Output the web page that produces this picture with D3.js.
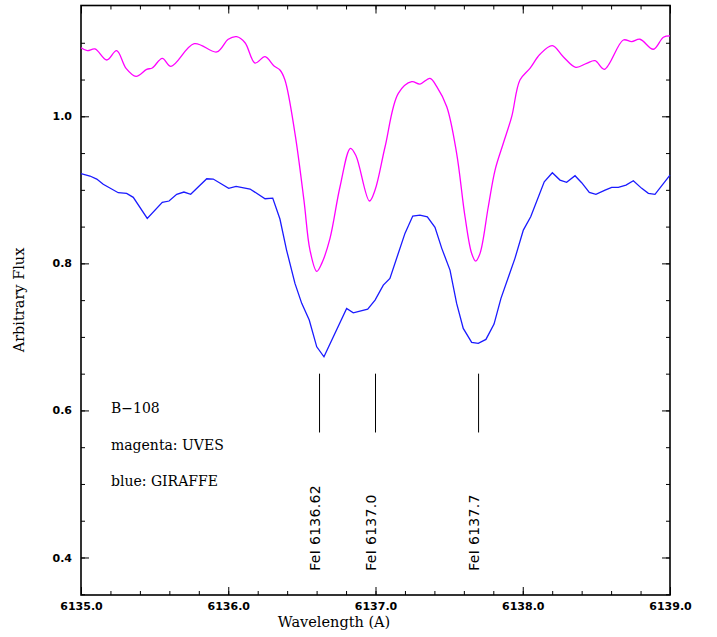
<!DOCTYPE html>
<html>
<head>
<meta charset="utf-8">
<script src="https://cdn.jsdelivr.net/npm/d3@7"></script>
<style>
  body { margin: 0; background: #fff; }
  svg { display: block; }
</style>
</head>
<body>
<svg id="chart" width="717" height="637"></svg>
<script>
// UVES spectrum (magenta)
const uvesWave = [6135.000, 6135.043, 6135.095, 6135.175, 6135.242, 6135.306, 6135.374, 6135.446,
  6135.484, 6135.552, 6135.611, 6135.769, 6135.922, 6136.000, 6136.057, 6136.114, 6136.182,
  6136.250, 6136.311, 6136.351, 6136.385, 6136.453, 6136.514, 6136.555, 6136.601, 6136.635,
  6136.691, 6136.759, 6136.830, 6136.868, 6136.959, 6136.997, 6137.065, 6137.155, 6137.246,
  6137.302, 6137.370, 6137.416, 6137.484, 6137.551, 6137.608, 6137.653, 6137.680, 6137.710,
  6137.766, 6137.812, 6137.868, 6137.925, 6137.981, 6138.049, 6138.117, 6138.201, 6138.275,
  6138.360, 6138.434, 6138.491, 6138.554, 6138.683, 6138.740, 6138.796, 6138.887, 6138.955, 6139.000];
const uvesFlux = [1.0933, 1.0893, 1.0916, 1.0766, 1.0893, 1.0653, 1.0544, 1.0639,
  1.0657, 1.0789, 1.0680, 1.0988, 1.0875, 1.1048, 1.1083, 1.1001, 1.0725,
  1.0811, 1.0684, 1.0630, 1.0494, 0.9769, 0.8861, 0.8181, 0.7891, 0.8000,
  0.8340, 0.9042, 0.9565, 0.9460, 0.8848, 0.8997, 0.9586, 1.0313, 1.0471,
  1.0439, 1.0517, 1.0403, 1.0131, 0.9497, 0.8634, 0.8136, 0.8031, 0.8136,
  0.8770, 0.9269, 0.9633, 0.9995, 1.0494, 1.0653, 1.0844, 1.0961, 1.0811,
  1.0667, 1.0721, 1.0756, 1.0639, 1.1038, 1.1015, 1.1048, 1.0912, 1.1075, 1.1093];

// GIRAFFE spectrum (blue)
const giraffeWave = [6135.000, 6135.061, 6135.107, 6135.151, 6135.253, 6135.310, 6135.355, 6135.450,
  6135.552, 6135.598, 6135.650, 6135.699, 6135.745, 6135.854, 6135.898, 6136.003, 6136.053,
  6136.148, 6136.250, 6136.302, 6136.351, 6136.396, 6136.453, 6136.499, 6136.550, 6136.601,
  6136.650, 6136.804, 6136.849, 6136.947, 6136.997, 6137.053, 6137.098, 6137.200, 6137.253,
  6137.302, 6137.352, 6137.404, 6137.450, 6137.506, 6137.551, 6137.596, 6137.653, 6137.698,
  6137.750, 6137.805, 6137.852, 6137.947, 6138.004, 6138.054, 6138.146, 6138.201, 6138.253,
  6138.298, 6138.355, 6138.400, 6138.452, 6138.497, 6138.559, 6138.604, 6138.649, 6138.701,
  6138.751, 6138.808, 6138.853, 6138.898, 6139.000];
const giraffeFlux = [0.9219, 0.9188, 0.9147, 0.9075, 0.8961, 0.8952, 0.8898, 0.8612,
  0.8830, 0.8848, 0.8939, 0.8970, 0.8939, 0.9151, 0.9147, 0.9020, 0.9048,
  0.9011, 0.8879, 0.8888, 0.8603, 0.8181, 0.7728, 0.7456, 0.7229, 0.6865,
  0.6729, 0.7388, 0.7328, 0.7378, 0.7501, 0.7705, 0.7796, 0.8408, 0.8644,
  0.8657, 0.8634, 0.8490, 0.8204, 0.7909, 0.7456, 0.7116, 0.6925, 0.6912,
  0.6966, 0.7174, 0.7524, 0.8068, 0.8453, 0.8634, 0.9110, 0.9233, 0.9133,
  0.9102, 0.9192, 0.9097, 0.8966, 0.8939, 0.8997, 0.9034, 0.9034, 0.9065,
  0.9124, 0.9020, 0.8952, 0.8939, 0.9201];

// line identifications
const lineWave = [6136.62, 6137.0, 6137.7];
const lineLabels = ["FeI 6136.62", "FeI 6137.0", "FeI 6137.7"];
const markTop = 0.65, markBottom = 0.57, labelBase = 0.382;

// tick values
const xMajor = [6135, 6136, 6137, 6138, 6139];
const xMinor = d3.range(0, 21).map(i => 6135 + i * 0.2);
const yMajor = [0.4, 0.6, 0.8, 1.0];
const yMinor = d3.range(7, 23).map(i => i * 0.05);

const legendLines = ["B\u2212108", "magenta: UVES", "blue: GIRAFFE"];

const svg = d3.select("#chart");
const plotLeft = 81, plotRight = 670, plotTop = 5.5, plotBottom = 595;

const x = d3.scaleLinear().domain([6135, 6139]).range([plotLeft, plotRight]);
const y = d3.scaleLinear().domain([0.349, 1.1507]).range([plotBottom, plotTop]);

const serif = "'DejaVu Serif', serif";
const sans = "'DejaVu Sans', sans-serif";

// axes: ticks drawn inward on all four sides
function addAxis(axis, tx, ty, labels) {
  const g = svg.append("g")
    .attr("transform", `translate(${tx},${ty})`)
    .call(axis);
  g.select(".domain").remove();
  g.selectAll(".tick line").attr("stroke", "#000").attr("stroke-width", 1);
  if (!labels) g.selectAll(".tick text").remove();
  else g.selectAll(".tick text")
    .attr("font-family", sans)
    .attr("font-size", 11)
    .attr("font-weight", "bold")
    .attr("fill", "#000");
  return g;
}

const fmt = d3.format(".1f");
addAxis(d3.axisBottom(x).tickValues(xMinor).tickSize(-4).tickFormat(""), 0, plotBottom, false);
addAxis(d3.axisBottom(x).tickValues(xMajor).tickSize(-8).tickPadding(7).tickFormat(fmt), 0, plotBottom, true);
addAxis(d3.axisTop(x).tickValues(xMinor).tickSize(-4), 0, plotTop, false);
addAxis(d3.axisTop(x).tickValues(xMajor).tickSize(-8), 0, plotTop, false);
addAxis(d3.axisLeft(y).tickValues(yMinor).tickSize(-4).tickFormat(""), plotLeft, 0, false);
addAxis(d3.axisLeft(y).tickValues(yMajor).tickSize(-8).tickPadding(9).tickFormat(fmt), plotLeft, 0, true);
addAxis(d3.axisRight(y).tickValues(yMinor).tickSize(-4), plotRight, 0, false);
addAxis(d3.axisRight(y).tickValues(yMajor).tickSize(-8), plotRight, 0, false);

svg.append("rect")
  .attr("x", plotLeft).attr("y", plotTop)
  .attr("width", plotRight - plotLeft).attr("height", plotBottom - plotTop)
  .attr("fill", "none").attr("stroke", "#000").attr("stroke-width", 1.6);

// spectra
const uves = uvesWave.map((w, i) => [w, uvesFlux[i]]);
const giraffe = giraffeWave.map((w, i) => [w, giraffeFlux[i]]);

svg.append("path")
  .datum(uves)
  .attr("fill", "none")
  .attr("stroke", "#ff00ff")
  .attr("stroke-width", 1.3)
  .attr("d", d3.line().x(d => x(d[0])).y(d => y(d[1])).curve(d3.curveCatmullRom.alpha(0.5)));

svg.append("path")
  .datum(giraffe)
  .attr("fill", "none")
  .attr("stroke", "#1a1aff")
  .attr("stroke-width", 1.3)
  .attr("d", d3.line().x(d => x(d[0])).y(d => y(d[1])));

// line markers and labels
svg.selectAll("line.mark")
  .data(lineWave)
  .join("line")
  .attr("class", "mark")
  .attr("x1", d => x(d)).attr("x2", d => x(d))
  .attr("y1", y(markTop)).attr("y2", y(markBottom))
  .attr("stroke", "#000").attr("stroke-width", 1);

svg.selectAll("text.ident")
  .data(lineWave)
  .join("text")
  .attr("class", "ident")
  .attr("transform", d => `translate(${x(d) + 0.5},${y(labelBase)}) rotate(-90)`)
  .attr("font-family", sans)
  .attr("font-size", 14)
  .attr("letter-spacing", 0.3)
  .attr("fill", "#000")
  .text((d, i) => lineLabels[i]);

// legend text
svg.selectAll("text.legend")
  .data(legendLines)
  .join("text")
  .attr("class", "legend")
  .attr("x", 111)
  .attr("y", (d, i) => 413 + i * 36.5)
  .attr("font-family", serif)
  .attr("font-size", 14)
  .attr("fill", "#000")
  .text(d => d);

// axis titles
svg.append("text")
  .attr("x", 334).attr("y", 627)
  .attr("text-anchor", "middle")
  .attr("font-family", serif)
  .attr("font-size", 14.5)
  .text("Wavelength (A)");

svg.append("text")
  .attr("transform", "translate(24,300) rotate(-90)")
  .attr("text-anchor", "middle")
  .attr("font-family", serif)
  .attr("font-size", 14.5)
  .text("Arbitrary Flux");
</script>
</body>
</html>
